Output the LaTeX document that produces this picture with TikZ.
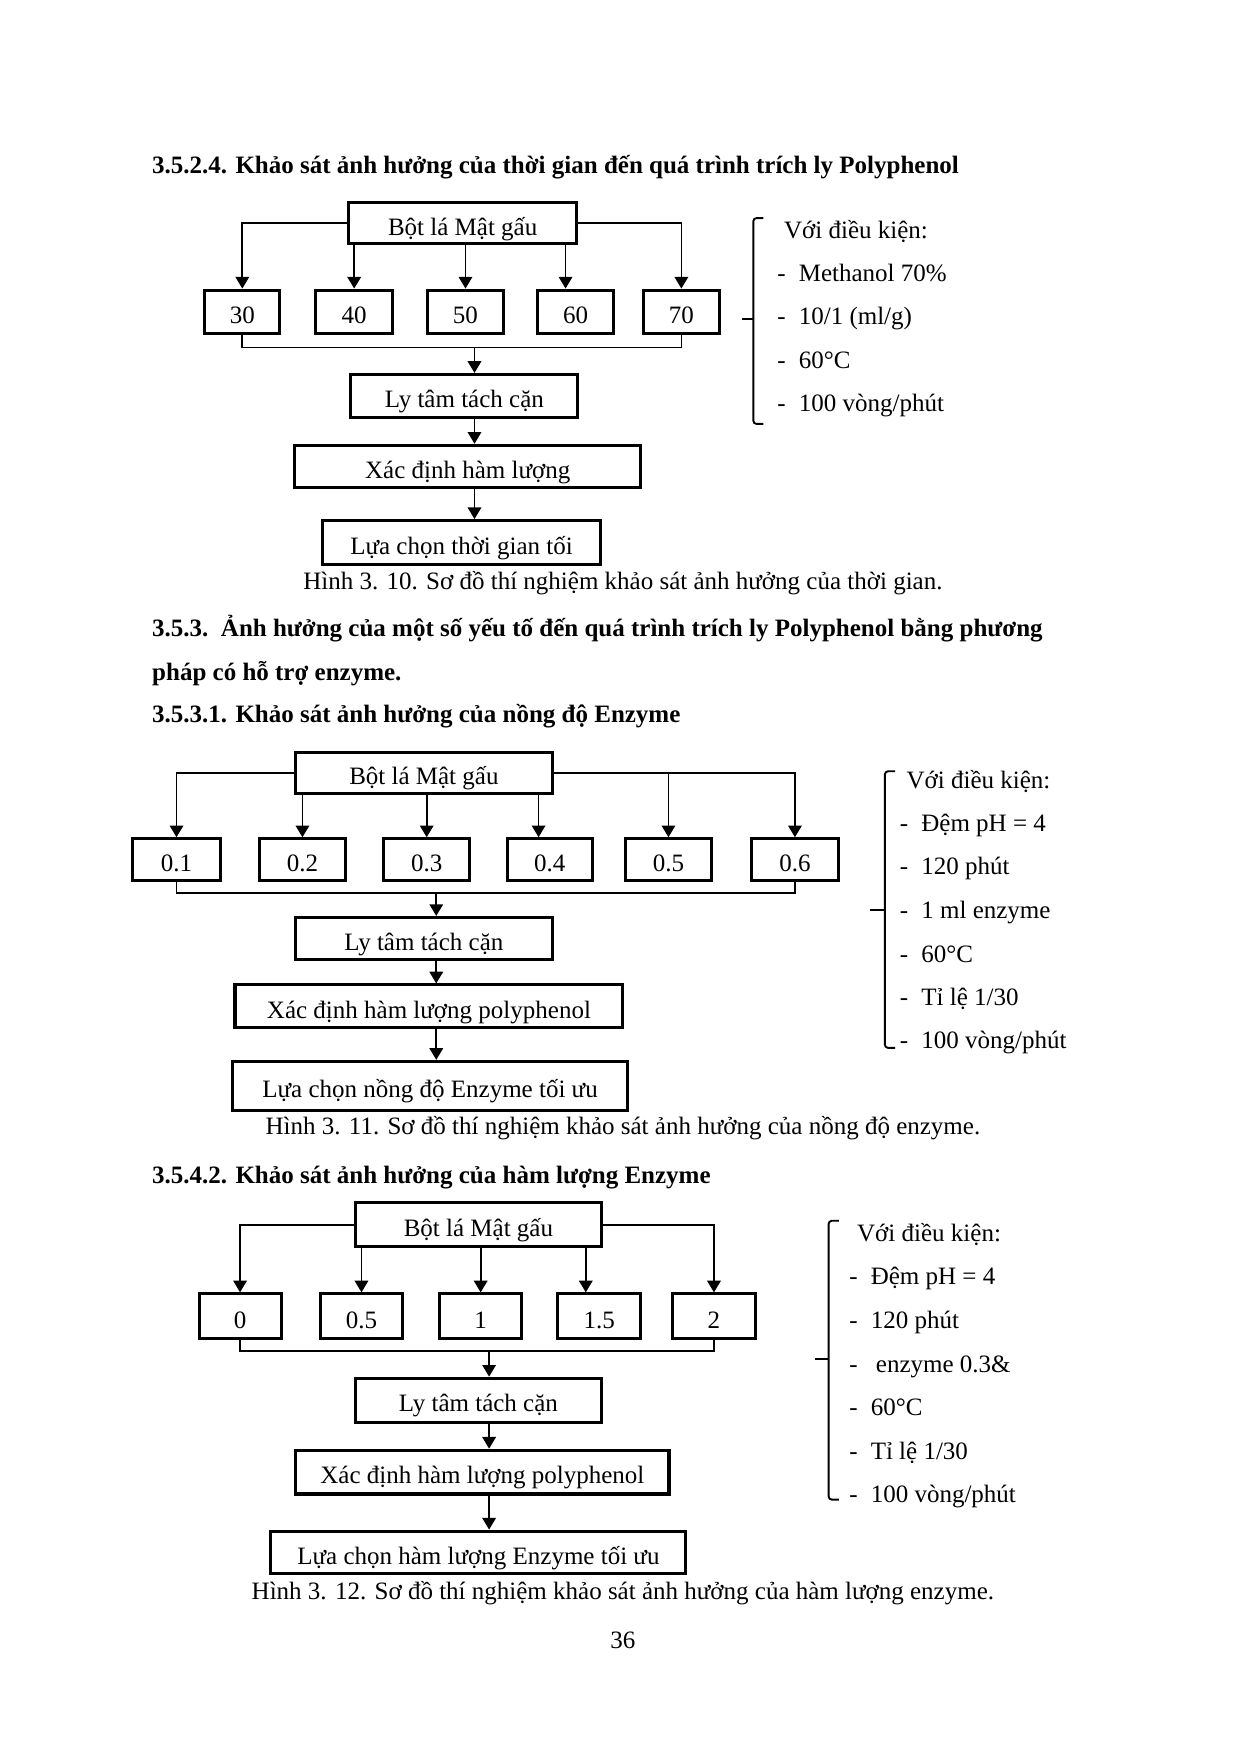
\documentclass[tikz,border=0pt]{standalone}
\usepackage{fontspec}
\setmainfont{Liberation Serif}
\usetikzlibrary{arrows.meta,calc}
\newcommand{\bx}[6]{\node[box, minimum width={(#4-#2)*0.5397pt}, minimum height={(#5-#3)*0.5397pt}] (#1) at ({(#2+#4)/2},{(#3+#5)/2}) {#6};}
\newcommand{\itm}[1]{\makebox[10.3pt][l]{-}#1}
\begin{document}
\begin{tikzpicture}[x=0.5397pt,y=-0.5397pt, font=\fontsize{12}{14}\selectfont,
 box/.style={draw, line width=1.45pt, inner sep=0pt, align=center, text height=11.4pt, text depth=0pt},
 conn/.style={line width=0.8pt},
 arr/.style={conn, -{Triangle[length=5.6pt,width=6.5pt]}},
 brace/.style={line width=0.9pt, rounded corners=1.5pt},
 head/.style={anchor=base west, font=\fontsize{12}{14}\selectfont\bfseries, inner sep=0pt},
 txt/.style={anchor=base west, inner sep=0pt},
 capt/.style={anchor=base, inner sep=0pt}]
\useasboundingbox (0,0) rectangle (1102.5,1560);

% ---------- Section 1 ----------
\node[head] (h1) at (135,154) {3.5.2.4. Khảo sát ảnh hưởng của thời gian đến quá trình trích ly Polyphenol};
\bx{a0}{310}{180}{513}{217}{Bột lá Mật gấu}
\bx{a1}{182}{258}{249}{297}{30}
\bx{a2}{281}{258}{349}{297}{40}
\bx{a3}{380}{258}{448}{297}{50}
\bx{a4}{478}{258}{546}{297}{60}
\bx{a5}{572}{258}{640}{297}{70}
\bx{a6}{312}{333}{514}{371}{Ly tâm tách cặn}
\bx{a7}{262}{396}{570}{434}{Xác định hàm lượng}
\bx{a8}{287}{463}{534}{502}{Lựa chọn thời gian tối}
\coordinate (ac) at (422,309);
\coordinate (a4t) at ($(a4.north)+(-9,0)$);
\draw[arr] (a0.west) -| (a1.north);
\draw[arr] (a0.east) -| (a5.north);
\draw[arr] (a0.south -| a2.north) -- (a2.north);
\draw[arr] (a0.south -| a3.north) -- (a3.north);
\draw[arr] (a0.south -| a4t) -- (a4t);
\draw[conn] (a1.south) |- (ac) -| (a5.south);
\draw[arr] (ac) -- (ac |- a6.north);
\draw[arr] (ac |- a6.south) -- (ac |- a7.north);
\draw[arr] (ac |- a7.south) -- (ac |- a8.north);
\node[capt] (f1) at (554,524) {Hình 3. 10. Sơ đồ thí nghiệm khảo sát ảnh hưởng của thời gian.};
\draw[brace] (679,194) -- (670,194) -- (670,377) -- (679,377);
\draw[brace] (670,284) -- (660,284);
\node[txt] (k1) at (697,212) {Với điều kiện:};
\node[txt] (k1a) at (691,250.5) {\itm{Methanol 70\%}};
\node[txt] (k1b) at (691,289) {\itm{10/1 (ml/g)}};
\node[txt] (k1c) at (691,327.5) {\itm{60°C}};
\node[txt] (k1d) at (691,366) {\itm{100 vòng/phút}};

% ---------- Section 2 ----------
\begin{scope}[yshift=1.1pt]
\node[head] (h2) at (135,568) {3.5.3.\ \ Ảnh hưởng của một số yếu tố đến quá trình trích ly Polyphenol bằng phương};
\node[head] (h3) at (135,607) {pháp có hỗ trợ enzyme.};
\node[head] (h4) at (135,645) {3.5.3.1. Khảo sát ảnh hưởng của nồng độ Enzyme};
\bx{b0}{263}{671}{491}{708}{Bột lá Mật gấu}
\bx{b1}{118}{748}{196}{785}{0.1}
\bx{b2}{231}{748}{307}{785}{0.2}
\bx{b3}{341}{748}{418}{785}{0.3}
\bx{b4}{451}{748}{527}{785}{0.4}
\bx{b5}{556}{748}{633}{785}{0.5}
\bx{b6}{668}{748}{746}{785}{0.6}
\bx{b7}{263}{818}{491}{855}{Ly tâm tách cặn}
\bx{b8}{209}{878}{554}{916}{Xác định hàm lượng polyphenol}
\bx{b9}{207}{946}{558}{990}{Lựa chọn nồng độ Enzyme tối ưu}
\coordinate (bc) at (388,796);
\coordinate (b4t) at ($(b4.north)+(-10,0)$);
\draw[arr] (b0.west) -| (b1.north);
\draw[arr] (b0.east) -| (b6.north);
\draw[arr] (b0.south -| b2.north) -- (b2.north);
\draw[arr] (b0.south -| b3.north) -- (b3.north);
\draw[arr] (b0.south -| b4t) -- (b4t);
\draw[arr] (b0.east -| b5.north) -- (b5.north);
\draw[conn] (b1.south) |- (bc) -| (b6.south);
\draw[arr] (bc) -- (bc |- b7.north);
\draw[arr] (bc |- b7.south) -- (bc |- b8.north);
\draw[arr] (bc |- b8.south) -- (bc |- b9.north);
\node[capt] (f2) at (554,1011) {Hình 3. 11. Sơ đồ thí nghiệm khảo sát ảnh hưởng của nồng độ enzyme.};
\draw[brace] (796,688) -- (787,688) -- (787,934) -- (796,934);
\draw[brace] (787,811) -- (774,811);
\node[txt] (k2) at (806,703) {Với điều kiện:};
\node[txt] (k2a) at (800,742) {\itm{Đệm pH = 4}};
\node[txt] (k2b) at (800,780) {\itm{120 phút}};
\node[txt] (k2c) at (800,819) {\itm{1 ml enzyme}};
\node[txt] (k2d) at (800,858) {\itm{60°C}};
\node[txt] (k2e) at (800,896) {\itm{Tỉ lệ 1/30}};
\node[txt] (k2f) at (800,935) {\itm{100 vòng/phút}};
\end{scope}

% ---------- Section 3 ----------
\begin{scope}[yshift=2.3pt]
\node[head] (h5) at (135,1057) {3.5.4.2. Khảo sát ảnh hưởng của hàm lượng Enzyme};
\bx{c0}{316}{1074}{535}{1113}{Bột lá Mật gấu}
\bx{c1}{177}{1155}{250}{1195}{0}
\bx{c2}{285}{1155}{358}{1195}{0.5}
\bx{c3}{391}{1155}{464}{1195}{1}
\bx{c4}{496}{1155}{570}{1195}{1.5}
\bx{c5}{598}{1155}{672}{1195}{2}
\bx{c6}{316}{1230}{535}{1269}{Ly tâm tách cặn}
\bx{c7}{263}{1294}{595}{1333}{Xác định hàm lượng polyphenol}
\bx{c8}{241}{1366}{610}{1404}{Lựa chọn hàm lượng Enzyme tối ưu}
\coordinate (cc) at (435,1206);
\coordinate (c4t) at ($(c4.north)+(-12,0)$);
\draw[arr] (c0.west) -| (c1.north);
\draw[arr] (c0.east) -| (c5.north);
\draw[arr] (c0.south -| c2.north) -- (c2.north);
\draw[arr] (c0.south -| c3.north) -- (c3.north);
\draw[arr] (c0.south -| c4t) -- (c4t);
\draw[conn] (c1.south) |- (cc) -| (c5.south);
\draw[arr] (cc) -- (cc |- c6.north);
\draw[arr] (cc |- c6.south) -- (cc |- c7.north);
\draw[arr] (cc |- c7.south) -- (cc |- c8.north);
\node[capt] (f3) at (554,1427) {Hình 3. 12. Sơ đồ thí nghiệm khảo sát ảnh hưởng của hàm lượng enzyme.};
\draw[brace] (746,1090) -- (737,1090) -- (737,1338) -- (746,1338);
\draw[brace] (737,1213) -- (725,1213);
\node[txt] (k3) at (762,1108) {Với điều kiện:};
\node[txt] (k3a) at (755,1147) {\itm{Đệm pH = 4}};
\node[txt] (k3b) at (755,1186) {\itm{120 phút}};
\node[txt] (k3c) at (755,1225) {\itm{\hspace{2.5pt}enzyme 0.3\&}};
\node[txt] (k3d) at (755,1263) {\itm{60°C}};
\node[txt] (k3e) at (755,1302) {\itm{Tỉ lệ 1/30}};
\node[txt] (k3f) at (755,1341) {\itm{100 vòng/phút}};
\node[capt] (pg) at (554,1470) {36};
\end{scope}
\end{tikzpicture}
\end{document}
